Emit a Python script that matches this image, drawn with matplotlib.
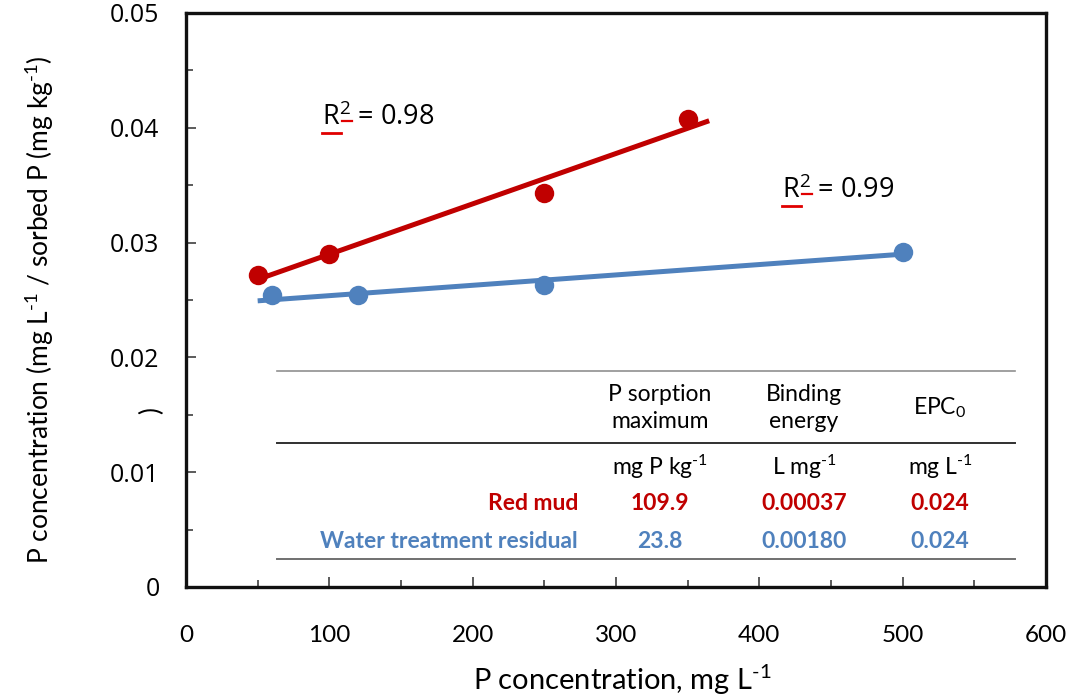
import matplotlib.pyplot as plt
import numpy as np
from matplotlib.lines import Line2D
from matplotlib.ticker import MultipleLocator

plt.rcParams['font.family'] = ['Lato', 'DejaVu Sans']
plt.rcParams['mathtext.default'] = 'regular'

# Sorption data: equilibrium P concentration vs ratio C / sorbed P
red_x = [50, 100, 250, 350]
red_y = [0.0272, 0.0290, 0.0343, 0.0408]
blue_x = [60, 120, 250, 500]
blue_y = [0.0254, 0.0254, 0.0263, 0.0292]
r2_values = [0.98, 0.99]

# Langmuir parameters table
col_headers = ["P sorption\nmaximum", "Binding\nenergy", "EPC$_0$"]
col_units = ["mg P kg$^{\u20101}$", "L mg$^{\u20101}$", "mg L$^{\u20101}$"]
row_names = ["Red mud", "Water treatment residual"]
row_values = [["109.9", "0.00037", "0.024"],
              ["23.8", "0.00180", "0.024"]]

red = '#C00000'
blue = '#4F81BD'

W, H = 1074, 698
fig = plt.figure(figsize=(W / 100, H / 100), dpi=100)
ax = fig.add_axes([186 / W, 1 - 587 / H, (1046 - 186) / W, (587 - 13) / H])


def px(x, y):
    return x / W, 1 - y / H


# linear trendlines
for xs, ys, c, xr in [(red_x, red_y, red, (50, 365)), (blue_x, blue_y, blue, (50, 502))]:
    k, b = np.polyfit(xs, ys, 1)
    xx = np.array(xr)
    ax.plot(xx, k * xx + b, color=c, lw=3.6, solid_capstyle='butt', zorder=2)
    ax.plot(xs, ys, 'o', color=c, ms=14, mec='none', zorder=3)

ax.set_xlim(0, 600)
ax.set_ylim(0, 0.05)
ax.xaxis.set_major_locator(MultipleLocator(100))
ax.xaxis.set_minor_locator(MultipleLocator(50))
ax.yaxis.set_minor_locator(MultipleLocator(0.005))
ax.set_yticks([0, 0.01, 0.02, 0.03, 0.04, 0.05])
ax.set_yticklabels(['0', '0.01', '0.02', '0.03', '0.04', '0.05'], family='Open Sans')
ax.tick_params(which='both', direction='in', width=1.2, color='#404040')
ax.tick_params(which='major', length=7)
ax.tick_params(which='minor', length=5)
ax.tick_params(axis='x', which='major', pad=27, labelsize=17.5)
ax.tick_params(axis='y', which='major', pad=19, labelsize=18)
for s in ax.spines.values():
    s.set_linewidth(2.4)
    s.set_color('#111111')

fig.text(*px(622, 680), "P concentration, mg L$^{\u20101}$", ha='center', va='center', fontsize=21)
fig.text(*px(40, 310), "P concentration (mg L$^{\u20101}$ / sorbed P (mg kg$^{\u20101}$)",
         rotation=90, ha='center', va='center', fontsize=19)
fig.text(*px(152, 410), ")", rotation=90, ha='center', va='center', fontsize=19)

# R-squared labels with spell-check underlines
for (x, y), r2 in zip([(322, 118), (782, 191)], r2_values):
    fig.text(*px(x, y), f"R$^2$ = {r2:.2f}", ha='left', va='center',
             fontsize=19.5, family='Open Sans')
    fig.add_artist(Line2D([x / W, (x + 19) / W], [1 - (y + 15) / H] * 2, color='#E00000', lw=2))
    fig.add_artist(Line2D([(x + 20) / W, (x + 30) / W], [1 - (y + 3) / H] * 2, color='#E00000', lw=1.6))

# table rules
for y, c, lw in [(371, '#909090', 1.2), (443, '#303030', 1.4), (559, '#707070', 1.4)]:
    fig.add_artist(Line2D([277 / W, 1015 / W], [1 - y / H] * 2, color=c, lw=lw))

col_x = [660, 804, 940]
for cx, hdr, unit in zip(col_x, col_headers, col_units):
    fig.text(*px(cx, 408), hdr, ha='center', va='center', fontsize=16.5, linespacing=1.3)
    fig.text(*px(cx, 467), unit, ha='center', va='center', fontsize=16.5)

for ry, name, vals, c in zip([504, 542], row_names, row_values, [red, blue]):
    fig.text(*px(578, ry), name, ha='right', va='center', fontsize=16.5, weight='bold', color=c)
    for cx, v in zip(col_x, vals):
        fig.text(*px(cx, ry), v, ha='center', va='center', fontsize=16.5, weight='bold', color=c)

fig.savefig('out.png', dpi=100)
